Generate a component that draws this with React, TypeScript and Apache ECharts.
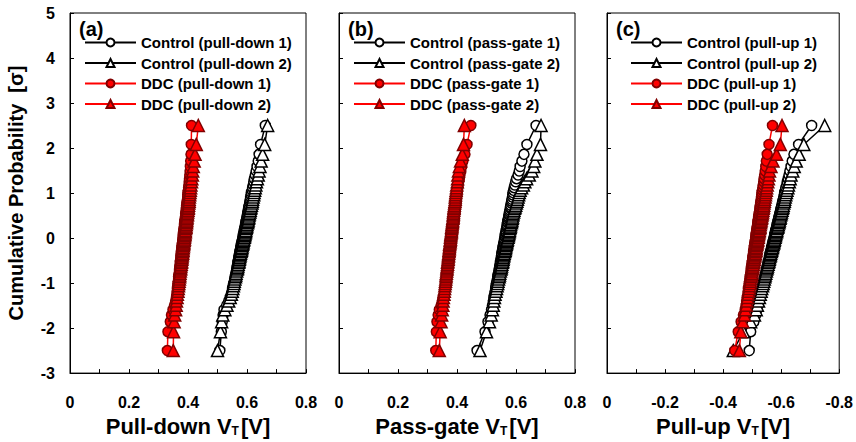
import React, { useEffect, useRef } from "react";
import * as echarts from "echarts";

const sigma = [-2.50,-2.08,-1.86,-1.71,-1.59,-1.49,-1.40,-1.32,-1.25,-1.18,
-1.12,-1.06,-1.01,-0.96,-0.91,-0.86,-0.82,-0.78,-0.73,-0.69,
-0.66,-0.62,-0.58,-0.54,-0.51,-0.47,-0.44,-0.40,-0.37,-0.34,
-0.30,-0.27,-0.24,-0.21,-0.17,-0.14,-0.11,-0.08,-0.05,-0.02,
0.02,0.05,0.08,0.11,0.14,0.17,0.21,0.24,0.27,0.30,
0.34,0.37,0.40,0.44,0.47,0.51,0.54,0.58,0.62,0.66,
0.69,0.73,0.78,0.82,0.86,0.91,0.96,1.01,1.06,1.12,
1.18,1.25,1.32,1.40,1.49,1.59,1.71,1.86,2.08,2.50];

const pdControl1 = [0.508,0.513,0.516,0.519,0.522,0.531,0.538,0.543,0.546,0.549,
0.551,0.553,0.555,0.557,0.558,0.560,0.561,0.562,0.564,0.565,
0.566,0.567,0.568,0.569,0.570,0.571,0.572,0.573,0.574,0.575,
0.576,0.577,0.578,0.579,0.580,0.581,0.582,0.583,0.584,0.585,
0.586,0.587,0.588,0.589,0.590,0.591,0.592,0.593,0.594,0.595,
0.596,0.597,0.598,0.599,0.600,0.601,0.602,0.603,0.604,0.605,
0.606,0.607,0.609,0.610,0.611,0.612,0.614,0.615,0.617,0.619,
0.621,0.623,0.625,0.628,0.631,0.634,0.638,0.641,0.646,0.662];

const pdControl2 = [0.500,0.510,0.514,0.518,0.525,0.532,0.538,0.543,0.547,0.550,
0.552,0.554,0.556,0.557,0.559,0.561,0.562,0.563,0.565,0.567,
0.568,0.569,0.570,0.572,0.573,0.574,0.575,0.576,0.577,0.578,
0.580,0.581,0.582,0.583,0.584,0.585,0.586,0.587,0.588,0.589,
0.591,0.592,0.593,0.594,0.595,0.596,0.597,0.598,0.599,0.600,
0.602,0.603,0.604,0.605,0.606,0.607,0.608,0.610,0.611,0.612,
0.613,0.615,0.617,0.618,0.619,0.621,0.623,0.624,0.626,0.628,
0.630,0.632,0.635,0.638,0.641,0.644,0.648,0.653,0.660,0.670];

const pdDDC1 = [0.330,0.332,0.340,0.344,0.349,0.354,0.358,0.361,0.362,0.363,
0.364,0.365,0.366,0.367,0.368,0.368,0.369,0.370,0.371,0.371,
0.372,0.373,0.373,0.374,0.374,0.375,0.376,0.376,0.377,0.377,
0.378,0.378,0.379,0.379,0.380,0.381,0.381,0.382,0.382,0.383,
0.383,0.384,0.384,0.385,0.385,0.386,0.387,0.387,0.388,0.388,
0.389,0.389,0.390,0.391,0.391,0.392,0.392,0.393,0.394,0.394,
0.395,0.395,0.396,0.397,0.398,0.399,0.399,0.400,0.401,0.402,
0.403,0.404,0.405,0.406,0.407,0.408,0.409,0.410,0.411,0.412];

const pdDDC2 = [0.350,0.351,0.353,0.355,0.358,0.360,0.361,0.363,0.364,0.366,
0.367,0.368,0.369,0.370,0.371,0.372,0.372,0.373,0.374,0.375,
0.375,0.376,0.377,0.378,0.378,0.379,0.380,0.380,0.381,0.382,
0.382,0.383,0.383,0.384,0.385,0.385,0.386,0.386,0.387,0.388,
0.388,0.389,0.390,0.390,0.391,0.391,0.392,0.393,0.393,0.394,
0.395,0.395,0.396,0.396,0.397,0.398,0.398,0.399,0.400,0.401,
0.401,0.402,0.403,0.404,0.404,0.405,0.406,0.407,0.408,0.409,
0.410,0.412,0.413,0.415,0.416,0.418,0.421,0.424,0.428,0.435];

const pgControl1 = [0.468,0.495,0.505,0.512,0.517,0.520,0.523,0.525,0.527,0.529,
0.531,0.532,0.534,0.535,0.537,0.538,0.539,0.540,0.542,0.543,
0.544,0.545,0.546,0.547,0.548,0.549,0.550,0.551,0.552,0.552,
0.554,0.554,0.555,0.556,0.557,0.558,0.559,0.560,0.561,0.561,
0.563,0.563,0.564,0.565,0.566,0.567,0.568,0.569,0.570,0.570,
0.572,0.572,0.573,0.574,0.575,0.576,0.577,0.578,0.579,0.581,
0.581,0.582,0.584,0.585,0.586,0.588,0.589,0.590,0.592,0.594,
0.596,0.599,0.602,0.607,0.611,0.614,0.620,0.627,0.637,0.668];

const pgControl2 = [0.478,0.500,0.510,0.516,0.520,0.523,0.525,0.527,0.529,0.532,
0.534,0.536,0.538,0.539,0.541,0.543,0.544,0.545,0.547,0.549,
0.550,0.551,0.552,0.554,0.555,0.556,0.557,0.558,0.559,0.560,
0.562,0.563,0.564,0.565,0.566,0.567,0.568,0.569,0.570,0.571,
0.573,0.574,0.575,0.576,0.577,0.578,0.579,0.580,0.581,0.582,
0.584,0.585,0.586,0.587,0.588,0.589,0.590,0.592,0.593,0.595,
0.597,0.599,0.601,0.603,0.605,0.607,0.609,0.611,0.614,0.619,
0.625,0.630,0.636,0.645,0.654,0.660,0.664,0.671,0.683,0.685];

const pgDDC1 = [0.328,0.330,0.332,0.336,0.340,0.346,0.350,0.353,0.356,0.358,
0.361,0.362,0.363,0.364,0.365,0.366,0.366,0.367,0.368,0.369,
0.369,0.370,0.371,0.372,0.372,0.373,0.374,0.374,0.375,0.376,
0.376,0.377,0.377,0.378,0.379,0.379,0.380,0.380,0.381,0.382,
0.382,0.383,0.384,0.384,0.385,0.385,0.386,0.387,0.387,0.388,
0.389,0.389,0.390,0.390,0.391,0.392,0.392,0.393,0.394,0.395,
0.395,0.396,0.397,0.398,0.398,0.399,0.400,0.401,0.402,0.403,
0.404,0.406,0.408,0.410,0.413,0.416,0.420,0.427,0.434,0.447];

const pgDDC2 = [0.340,0.343,0.346,0.348,0.350,0.352,0.353,0.354,0.356,0.357,
0.358,0.359,0.360,0.361,0.362,0.363,0.363,0.364,0.365,0.366,
0.366,0.367,0.368,0.368,0.369,0.370,0.370,0.371,0.371,0.372,
0.373,0.373,0.374,0.374,0.375,0.375,0.376,0.377,0.377,0.378,
0.378,0.379,0.379,0.380,0.381,0.381,0.382,0.382,0.383,0.383,
0.384,0.385,0.385,0.386,0.387,0.387,0.388,0.388,0.389,0.390,
0.390,0.391,0.392,0.393,0.394,0.394,0.395,0.396,0.397,0.398,
0.399,0.401,0.402,0.403,0.405,0.408,0.412,0.418,0.422,0.425];

const puControl1 = [-0.490,-0.495,-0.506,-0.512,-0.516,-0.520,-0.523,-0.526,-0.529,-0.531,
-0.534,-0.536,-0.538,-0.539,-0.541,-0.543,-0.545,-0.546,-0.548,-0.549,
-0.551,-0.552,-0.554,-0.555,-0.556,-0.558,-0.559,-0.560,-0.561,-0.562,
-0.564,-0.565,-0.566,-0.567,-0.569,-0.570,-0.571,-0.572,-0.573,-0.574,
-0.576,-0.577,-0.578,-0.579,-0.580,-0.581,-0.583,-0.584,-0.585,-0.586,
-0.588,-0.589,-0.590,-0.591,-0.592,-0.594,-0.595,-0.597,-0.598,-0.599,
-0.601,-0.602,-0.604,-0.605,-0.607,-0.609,-0.611,-0.612,-0.614,-0.616,
-0.619,-0.621,-0.624,-0.627,-0.630,-0.634,-0.638,-0.644,-0.660,-0.705];

const puControl2 = [-0.435,-0.470,-0.495,-0.508,-0.514,-0.518,-0.522,-0.525,-0.528,-0.531,
-0.533,-0.536,-0.538,-0.540,-0.542,-0.544,-0.545,-0.547,-0.549,-0.550,
-0.552,-0.553,-0.555,-0.556,-0.558,-0.559,-0.560,-0.562,-0.563,-0.564,
-0.566,-0.567,-0.568,-0.570,-0.571,-0.572,-0.574,-0.575,-0.576,-0.577,
-0.579,-0.580,-0.581,-0.582,-0.584,-0.585,-0.586,-0.588,-0.589,-0.590,
-0.592,-0.593,-0.594,-0.596,-0.597,-0.598,-0.600,-0.601,-0.603,-0.604,
-0.606,-0.607,-0.609,-0.611,-0.612,-0.614,-0.616,-0.618,-0.620,-0.623,
-0.625,-0.628,-0.631,-0.634,-0.640,-0.645,-0.652,-0.662,-0.678,-0.750];

const puDDC1 = [-0.440,-0.452,-0.462,-0.470,-0.476,-0.479,-0.481,-0.483,-0.485,-0.486,
-0.487,-0.489,-0.490,-0.491,-0.492,-0.493,-0.494,-0.495,-0.496,-0.497,
-0.497,-0.498,-0.499,-0.500,-0.501,-0.502,-0.502,-0.503,-0.504,-0.505,
-0.505,-0.506,-0.507,-0.507,-0.508,-0.509,-0.510,-0.510,-0.511,-0.512,
-0.512,-0.513,-0.514,-0.514,-0.515,-0.516,-0.517,-0.517,-0.518,-0.519,
-0.520,-0.520,-0.521,-0.522,-0.522,-0.523,-0.524,-0.525,-0.526,-0.527,
-0.527,-0.528,-0.529,-0.530,-0.531,-0.532,-0.533,-0.534,-0.535,-0.537,
-0.538,-0.540,-0.541,-0.543,-0.545,-0.547,-0.549,-0.552,-0.558,-0.570];

const puDDC2 = [-0.456,-0.461,-0.468,-0.474,-0.477,-0.480,-0.482,-0.484,-0.486,-0.488,
-0.490,-0.491,-0.493,-0.494,-0.495,-0.497,-0.498,-0.499,-0.500,-0.501,
-0.502,-0.503,-0.504,-0.505,-0.506,-0.507,-0.508,-0.509,-0.510,-0.511,
-0.512,-0.513,-0.514,-0.514,-0.515,-0.516,-0.517,-0.518,-0.519,-0.519,
-0.521,-0.521,-0.522,-0.523,-0.524,-0.525,-0.526,-0.527,-0.527,-0.528,
-0.529,-0.530,-0.531,-0.532,-0.533,-0.534,-0.535,-0.536,-0.537,-0.538,
-0.539,-0.540,-0.541,-0.542,-0.543,-0.545,-0.546,-0.547,-0.549,-0.550,
-0.552,-0.554,-0.556,-0.558,-0.560,-0.565,-0.572,-0.584,-0.597,-0.603];

const panelNames = [
  ["Control (pull-down 1)", "Control (pull-down 2)", "DDC (pull-down 1)", "DDC (pull-down 2)"],
  ["Control (pass-gate 1)", "Control (pass-gate 2)", "DDC (pass-gate 1)", "DDC (pass-gate 2)"],
  ["Control (pull-up 1)", "Control (pull-up 2)", "DDC (pull-up 1)", "DDC (pull-up 2)"],
];
const panelData = [
  [pdControl1, pdControl2, pdDDC1, pdDDC2],
  [pgControl1, pgControl2, pgDDC1, pgDDC2],
  [puControl1, puControl2, puDDC1, puDDC2],
];
const panelTags = ["(a)", "(b)", "(c)"];
const xTitles = ["Pull-down V", "Pass-gate V", "Pull-up V"];
const yTitle = "Cumulative Probability  [σ]";

const FONT = "'Liberation Sans', Arial, sans-serif";
const gridLefts = [70, 339, 607];
const GRID_W = 236;
const GRID_TOP = 13;
const GRID_H = 362;
const legendLefts = [84, 353, 630];

export default function App() {
  const ref = useRef<HTMLDivElement>(null);
  useEffect(() => {
    if (!ref.current) return;
    const chart = echarts.init(ref.current, null, { renderer: "svg" });
    const grids = gridLefts.map((l) => ({
      left: l, top: GRID_TOP, width: GRID_W, height: GRID_H,
      show: true, borderColor: "#000", borderWidth: 1, backgroundColor: "transparent",
    }));
    const xAxes = [0, 1, 2].map((i) => ({
      type: "value", gridIndex: i,
      min: i === 2 ? -0.8 : 0, max: i === 2 ? 0 : 0.8, interval: 0.2,
      inverse: i === 2,
      axisLine: { show: true, onZero: false, lineStyle: { color: "#000", width: 1 } },
      axisTick: { show: true, inside: true, length: 4, lineStyle: { color: "#000" } },
      minorTick: { show: true, splitNumber: 2, length: 4, lineStyle: { color: "#000" } },
      splitLine: { show: false },
      axisLabel: {
        margin: 21, color: "#000", fontFamily: FONT, fontWeight: "bold", fontSize: 16,
        formatter: (v: number) => (Math.abs(v) < 1e-9 ? "0" : v.toFixed(1)),
      },
      name: `{t|${xTitles[i]}}{s|T}{t|[V]}`,
      nameLocation: "middle", nameGap: 37,
      nameTextStyle: {
        rich: {
          t: { fontFamily: FONT, fontWeight: "bold", fontSize: 22, color: "#000" },
          s: { fontFamily: FONT, fontWeight: "bold", fontSize: 12, color: "#000", verticalAlign: "bottom", padding: [0, 2, 0, 0] },
        },
      },
    }));
    const yAxes = [0, 1, 2].map((i) => ({
      type: "value", gridIndex: i, min: -3, max: 5, interval: 1,
      axisLine: { show: true, onZero: false, lineStyle: { color: "#000", width: 1 } },
      axisTick: { show: true, inside: true, length: 4, lineStyle: { color: "#000" } },
      splitLine: { show: false },
      axisLabel: { show: i === 0, margin: 15, color: "#000", fontFamily: FONT, fontWeight: "bold", fontSize: 16 },
      name: i === 0 ? yTitle : "",
      nameLocation: "middle", nameGap: 44, nameRotate: 90,
      nameTextStyle: { fontFamily: FONT, fontWeight: "bold", fontSize: 20, color: "#000" },
    }));
    const series: any[] = [];
    panelData.forEach((group, gi) => {
      group.forEach((xs, si) => {
        const ddc = si >= 2;
        const sym = si % 2 === 0 ? "circle" : "triangle";
        series.push({
          name: panelNames[gi][si],
          type: "line", xAxisIndex: gi, yAxisIndex: gi,
          data: xs.map((x, k) => [x, sigma[k]]),
          symbol: sym, symbolSize: sym === "circle" ? 10 : 12,
          showSymbol: true, showAllSymbol: true,
          lineStyle: { color: ddc ? "#ff0000" : "#000", width: 1.5 },
          itemStyle: { color: ddc ? "#ff0000" : "#ffffff", borderColor: ddc ? "#800000" : "#000", borderWidth: 1.5 },
          emphasis: { disabled: true }, silent: true,
          z: 2 + si,
        });
      });
    });
    const legends = [0, 1, 2].map((i) => ({
      data: panelNames[i], left: legendLefts[i], top: 35, orient: "vertical",
      itemWidth: 51, itemHeight: 10, itemGap: 5.5, padding: 0, selectedMode: false,
      textStyle: { fontFamily: FONT, fontWeight: "bold", fontSize: 15, color: "#000" },
    }));
    chart.setOption({
      animation: false,
      backgroundColor: "#fff",
      grid: grids, xAxis: xAxes, yAxis: yAxes, series, legend: legends,
      graphic: panelTags.map((t, i) => ({
        type: "text", left: gridLefts[i] + 9, top: 19,
        style: { text: t, fontFamily: FONT, fontWeight: "bold", fontSize: 20, fill: "#000" },
      })),
    });
    return () => chart.dispose();
  }, []);
  return <div ref={ref} style={{ position: "fixed", left: 0, top: 0, width: 856, height: 442 }} />;
}
